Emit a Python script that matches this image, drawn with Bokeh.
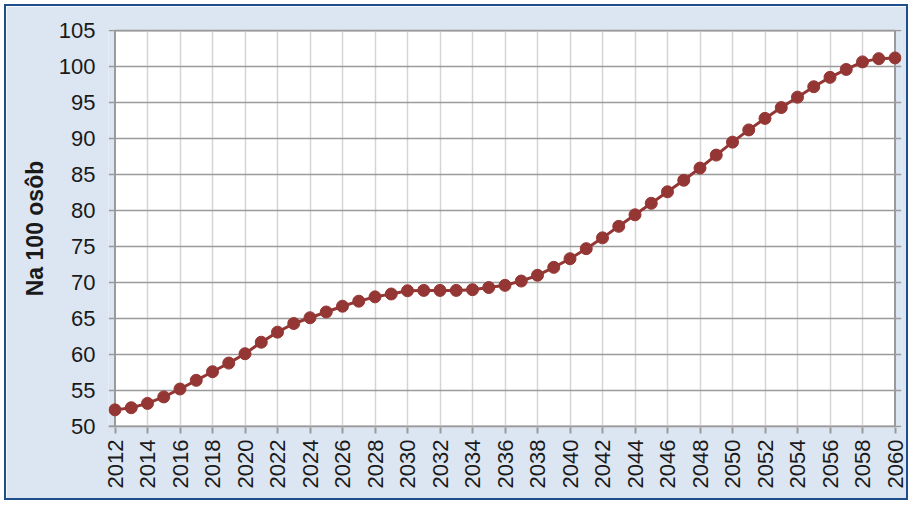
import math
from bokeh.plotting import figure
from bokeh.models import FixedTicker, Range1d
from bokeh.embed import file_html
from bokeh.resources import INLINE

years = list(range(2012, 2061))
values = [52.3, 52.6, 53.2, 54.1, 55.2, 56.4, 57.6, 58.8, 60.1, 61.7,
          63.1, 64.3, 65.1, 65.9, 66.7, 67.4, 68.0, 68.4, 68.85, 68.9,
          68.9, 68.9, 69.0, 69.3, 69.6, 70.2, 71.0, 72.1, 73.3, 74.7,
          76.2, 77.8, 79.4, 81.0, 82.6, 84.2, 85.9, 87.7, 89.5, 91.2,
          92.8, 94.3, 95.75, 97.2, 98.5, 99.6, 100.65, 101.1, 101.2]
x_ticks = list(range(2012, 2061, 2))
y_ticks = list(range(50, 106, 5))
y_label = "Na 100 osôb"

BG = "#dce6f2"
AX = "#9a9a9a"
x0, x1 = x_ticks[0], x_ticks[-1]
y0, y1 = y_ticks[0], y_ticks[-1]

p = figure(width=904, height=496, output_backend="svg", toolbar_location=None,
           x_range=Range1d(x0 - 0.4, x1 + 0.4), y_range=Range1d(y0 - 0.15, y1 + 0.15),
           min_border_left=102, min_border_right=9, min_border_top=23, min_border_bottom=75)
p.styles = {"border": "2px solid #1f4e8c", "margin": "4px 0 0 4px"}
p.background_fill_color = BG
p.border_fill_color = BG
p.outline_line_color = None

# white plot area below the grid
p.quad(left=[x0], right=[x1], bottom=[y0], top=[y1], fill_color="white",
       line_color=None, level="image")

p.xaxis.ticker = FixedTicker(ticks=x_ticks)
p.yaxis.ticker = FixedTicker(ticks=y_ticks)
p.xgrid.ticker = FixedTicker(ticks=x_ticks[1:-1])
p.ygrid.ticker = FixedTicker(ticks=y_ticks)
p.xgrid.grid_line_color = "#d4d4d4"
p.xgrid.grid_line_width = 1.5
p.ygrid.grid_line_color = AX
p.ygrid.grid_line_width = 1.5

# hide grid beyond right border
p.quad(left=[x1], right=[x1 + 0.4], bottom=[y0 - 0.15], top=[y1 + 0.15], fill_color=BG,
       line_color=None, level="underlay")
# axis lines and plot-area border
p.segment(x0=[x0, x1, x0, x0 - 0.4], y0=[y0, y0, y1, y0],
          x1=[x0, x1, x1, x1], y1=[y1, y1, y1, y0],
          line_color=AX, line_width=2, level="underlay")

for ax in (p.xaxis[0], p.yaxis[0]):
    ax.axis_line_color = None
    ax.minor_tick_line_color = None
    ax.major_label_text_font = "Liberation Sans"
    ax.major_label_text_font_size = "22px"
    ax.major_label_text_color = "#1a1a1a"

p.xaxis.major_tick_line_color = AX
p.xaxis.major_tick_line_width = 2
p.xaxis.major_tick_out = 6
p.xaxis.major_tick_in = 0
p.yaxis.major_tick_line_color = None
p.yaxis.major_tick_out = 0
p.yaxis.major_tick_in = 0

p.xaxis.major_label_orientation = math.pi / 2
p.xaxis.major_label_standoff = 6
p.yaxis.major_label_standoff = 13
p.yaxis.axis_label = y_label
p.yaxis.axis_label_text_font = "Liberation Sans"
p.yaxis.axis_label_text_font_style = "bold"
p.yaxis.axis_label_text_font_size = "23px"
p.yaxis.axis_label_text_color = "#1a1a1a"
p.yaxis.axis_label_standoff = 8

p.line(years, values, line_color="#943634", line_width=3)
p.scatter(years, values, size=12, fill_color="#943634", line_color="#943634")

open("out.html", "w").write(file_html(p, INLINE))
